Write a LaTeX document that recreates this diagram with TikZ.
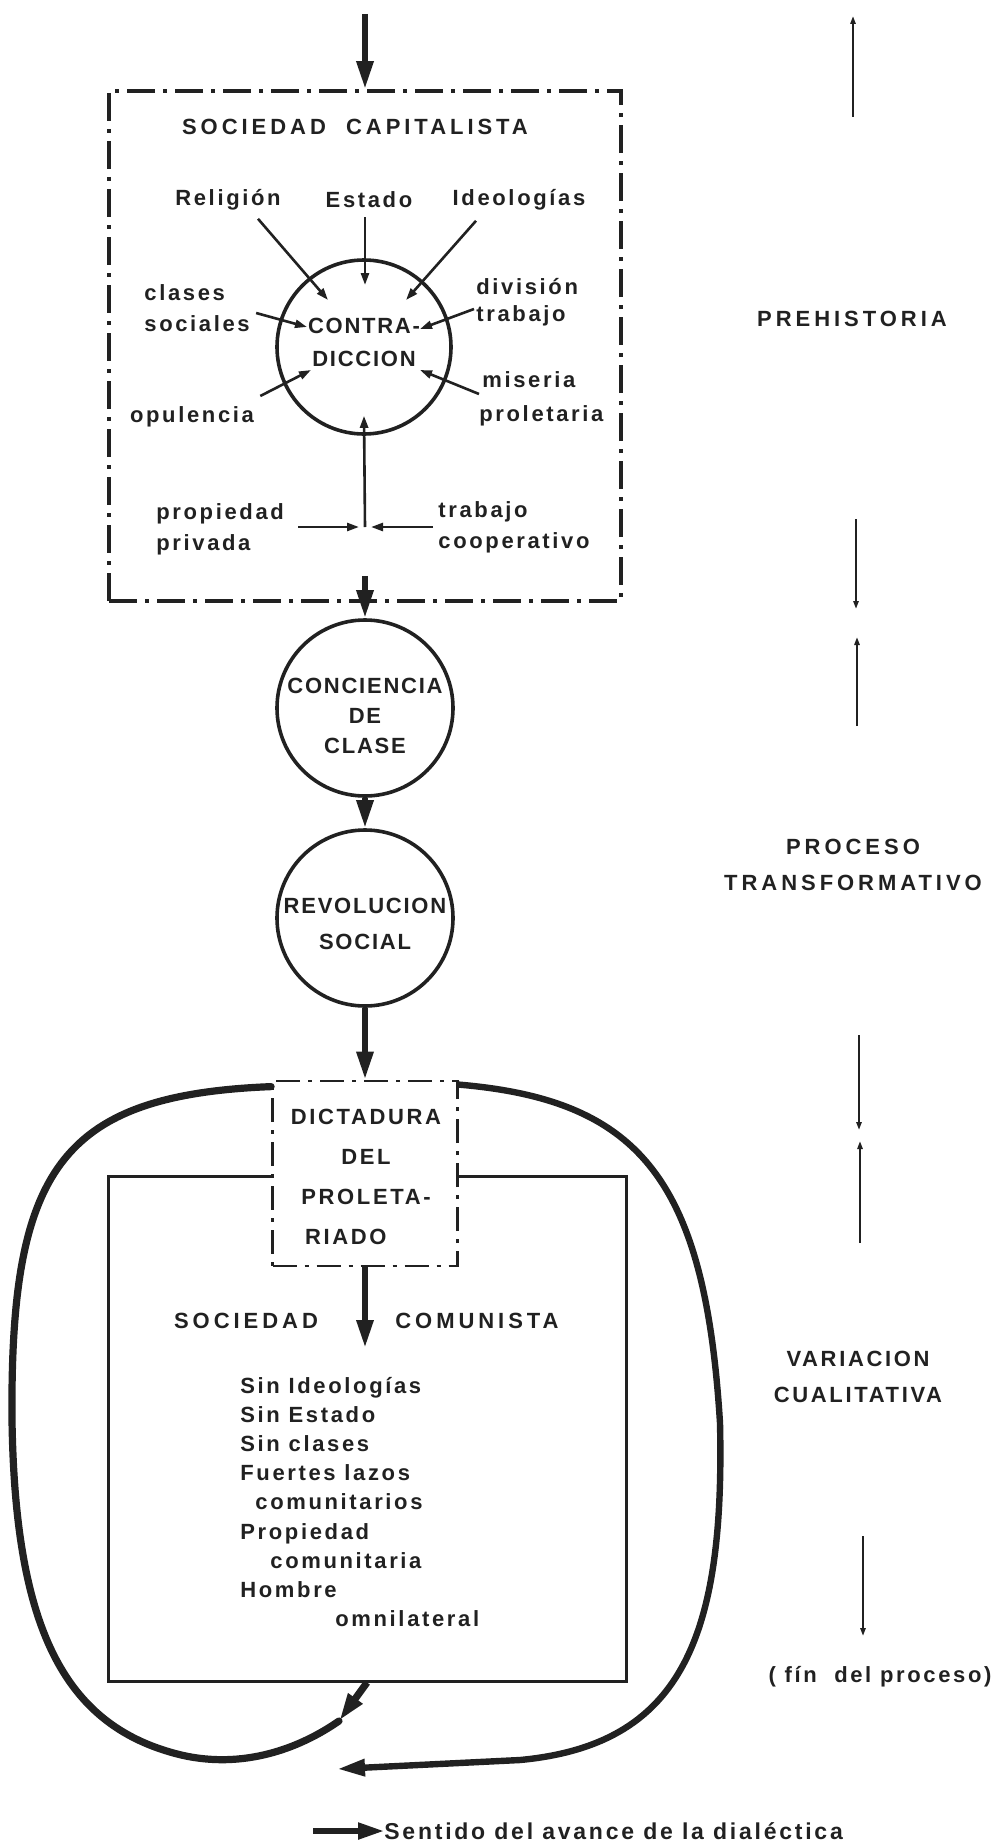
\documentclass[tikz,border=0pt]{standalone}
\usepackage{fontspec}
\setmainfont{Liberation Sans}
\newfontfamily\lblfont{Liberation Sans}[LetterSpace=12]
\newfontfamily\capfont{Liberation Sans}[LetterSpace=8]
\newfontfamily\widefont{Liberation Sans}[LetterSpace=18]
\usepackage{tikz}
\usetikzlibrary{arrows.meta, calc}
\definecolor{ink}{rgb}{0.13,0.13,0.13}

\begin{document}
\begin{tikzpicture}[x=0.5pt, y=-0.5pt, color=ink]
    % Define styles for texts, stages and arrows
    \tikzstyle{tag}=[inner sep=0pt, align=left, font=\lblfont\bfseries\fontsize{11}{15.5}\selectfont]
    \tikzstyle{wide tag}=[tag, font=\widefont\bfseries\fontsize{11}{18}\selectfont]
    \tikzstyle{stage}=[circle, draw, line width=1.8pt, minimum size=88pt, inner sep=0pt]
    \tikzstyle{stage text}=[inner sep=0pt, align=center, font=\capfont\bfseries\fontsize{11}{15}\selectfont]
    \tikzstyle{dashdot box}=[draw, line width=1.8pt, inner sep=0pt, dash pattern=on 14pt off 4pt on 2pt off 4pt]
    \tikzstyle{flow arrow}=[-{Triangle[length=14pt, width=8pt]}, line width=3pt]
    \tikzstyle{push arrow}=[-{Triangle[length=6pt, width=4pt]}, line width=1.3pt]
    \tikzstyle{side arrow}=[-{Triangle[length=4pt, width=2.6pt]}, line width=1.1pt]
    \tikzstyle{back line}=[line width=3.6pt, line cap=round]

    \useasboundingbox (0,0) rectangle (1005,1841);

    % Capitalist society
    \node[dashdot box, minimum width=256pt, minimum height=255pt] (S-cap) at (365,346) {};
    \node[wide tag] (T-cap) at (355,127) {SOCIEDAD\ \ CAPITALISTA};

    % Contradiction and what feeds it
    \node[stage, minimum size=87pt] (K-0) at (364,347) {};
    \node[stage text] (T-k0) at ($(K-0)+(0,-5)$) {CONTRA-\\[1.5pt]DICCION};
    \node[tag] (L-rel) at (228,200) {Religión};
    \node[tag] (L-est) at (369,200) {Estado};
    \node[tag] (L-ide) at (519,200) {Ideologías};
    \node[tag, anchor=west] (L-cla) at (144,308) {clases\\sociales};
    \node[tag, anchor=west] (L-div) at (476,302) {división\\[-2pt]trabajo};
    \node[tag] (L-opu) at (192,417) {opulencia};
    \node[tag, anchor=west] (L-mis) at (479,399) {\hspace*{1.5pt}miseria\\[1.5pt]proletaria};
    \node[tag, anchor=west] (L-pro) at (156,529) {propiedad\\privada};
    \node[tag, anchor=west] (L-tra) at (438,527) {trabajo\\cooperativo};
    \coordinate (J) at (365,527);

    \draw[push arrow] ($(L-rel.south)+(30,8)$) -- ($(K-0)+(-36,-47)$);
    \draw[push arrow] ($(L-est.south)+(-4,9)$) -- ($(K-0)+(1,-62)$);
    \draw[push arrow] ($(L-ide.south)+(-43,10)$) -- ($(K-0)+(42,-47)$);
    \draw[push arrow] ($(L-cla.east)+(6,5)$) -- ($(K-0)+(-57,-20)$);
    \draw[push arrow] ($(L-div.west)+(-2,7)$) -- ($(K-0)+(56,-18)$);
    \draw[push arrow] ($(L-opu.east)+(6,-21)$) -- ($(K-0)+(-53,23)$);
    \draw[push arrow] ($(L-mis.west)+(0,-5)$) -- ($(K-0)+(56,23)$);
    \draw[push arrow] ($(J)+(-67,0)$) -- ($(J)+(-6,0)$);
    \draw[push arrow] ($(L-tra.west)+(-5,0)$) -- ($(J)+(6,0)$);
    \draw[push arrow] (J) -- ($(K-0.south)+(0,-20)$);

    % Transforming process
    \node[stage] (K-1) at (365,708) {};
    \node[stage text] (T-k1) at ($(K-1)+(0,8)$) {CONCIENCIA\\DE\\CLASE};
    \node[stage] (K-2) at (365,918) {};
    \node[stage text] (T-k2) at ($(K-2)+(0,6)$) {REVOLUCION\\[3pt]SOCIAL};

    % Communist society
    \node[draw, line width=1.5pt, inner sep=0pt, minimum width=259pt, minimum height=252.5pt] (S-com) at (367,1428.5) {};
    \node[dashdot box, line width=1.4pt, dash pattern=on 12pt off 4pt on 2pt off 4pt, minimum size=92.5pt, fill=white] (D) at (365,1173.5) {};
    \node[tag, align=center, font=\lblfont\bfseries\fontsize{11}{20}\selectfont] (T-dic) at (366,1177) {DICTADURA\\DEL\\PROLETA-\\RIADO\hphantom{TA-}};
    \node[wide tag] (T-soc) at (246,1321) {SOCIEDAD};
    \node[wide tag] (T-com) at (477,1321) {COMUNISTA};
    \node[tag, anchor=west, font=\lblfont\bfseries\fontsize{11}{14.6}\selectfont] (T-list) at (240,1502)
        {Sin Ideologías\\Sin Estado\\Sin clases\\Fuertes lazos\\\hspace*{7.5pt}comunitarios\\Propiedad\\\hspace*{15pt}comunitaria\\Hombre\\\hspace*{47.5pt}omnilateral};
    \coordinate (C-in) at (365,1348);

    % Main flow
    \coordinate (top) at (365,14);
    \draw[flow arrow] (top) -- (S-cap.north);
    \draw[flow arrow] ($(S-cap.south)+(0,-27)$) -- (K-1.north);
    \draw[flow arrow] (K-1.south) -- (K-2.north);
    \draw[flow arrow] (K-2.south) -- (D.north);
    \draw[flow arrow] (D.south) -- (C-in);

    % Loops back round the communist society
    \coordinate (R-l) at (339,1721);
    \coordinate (R-r) at (337,1769);
    \draw[flow arrow, line width=3.6pt] (S-com.south) -- (R-l);
    \draw[back line] (R-l) .. controls (290,1755) and (230,1770) .. (170,1752)
        .. controls (60,1720) and (15,1620) .. (12,1420)
        .. controls (10,1170) and (60,1095) .. ($(D.north west)+(0,7)$);
    \draw[flow arrow, line width=3.2pt] ($(D.north east)+(0,5)$) .. controls (640,1100) and (705,1180) .. (720,1423)
        .. controls (725,1640) and (680,1745) .. (520,1760) -- (R-r);

    % Stages on the right
    \node[wide tag] (R-pre) at (852,319) {PREHISTORIA};
    \node[wide tag, align=center] (R-pro) at (853,865) {PROCESO\\TRANSFORMATIVO};
    \node[tag, align=center] (R-var) at (858,1377) {VARIACION\\[2.5pt]CUALITATIVA};
    \node[tag] (R-fin) at (880,1677) {( fín\ \ del proceso)};
    \foreach \n/\x/\ya/\yb in {1/853/117/16, 2/856/519/609, 3/857/726/637, 4/859/1035/1130, 5/860/1243/1141, 6/863/1536/1636} {
        \coordinate (P-\n) at (\x,\ya);
        \coordinate (Q-\n) at (\x,\yb);
        \draw[side arrow] (P-\n) -- (Q-\n);
    }

    % Legend
    \node[tag, anchor=west, font=\lblfont\bfseries\fontsize{11.5}{15}\selectfont] (T-leg) at (384,1831) {Sentido del avance de la dialéctica};
    \coordinate (G) at ($(T-leg.west)+(-71,0)$);
    \draw[flow arrow, line width=2.6pt, -{Triangle[length=13pt, width=8pt]}] (G) -- (T-leg.west);

\end{tikzpicture}
\end{document}
